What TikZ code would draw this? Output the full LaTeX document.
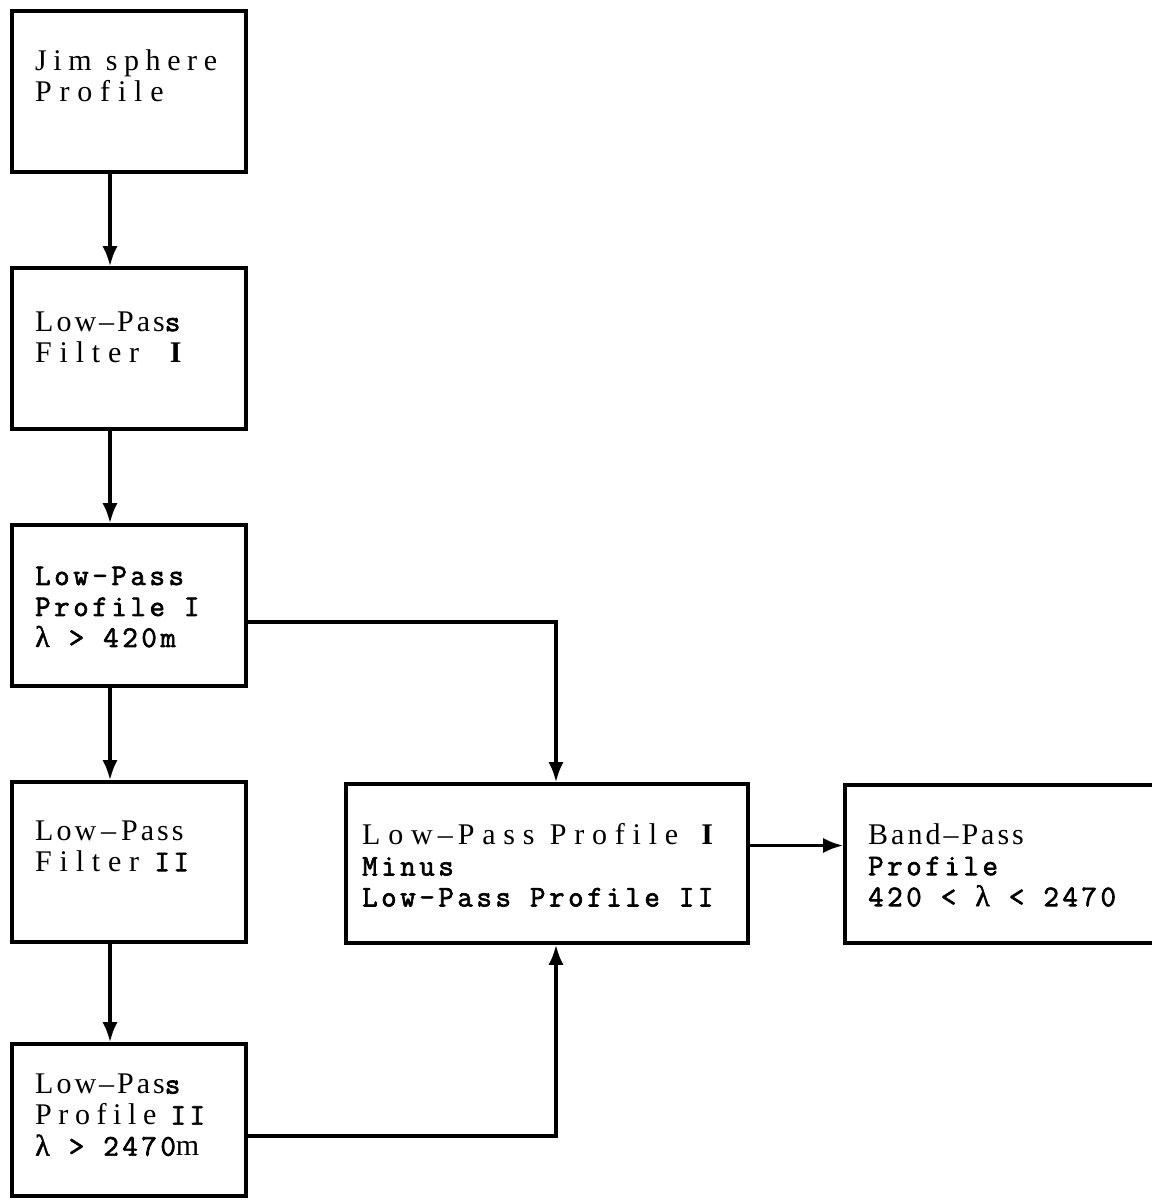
\documentclass[tikz,border=0pt]{standalone}
\usepackage{fontspec}
\setmainfont{Liberation Serif}
\newfontfamily\serifwide[LetterSpace=22]{Liberation Serif}
\newfontfamily\serifwider[LetterSpace=26]{Liberation Serif}
\newfontfamily\serifmid[LetterSpace=10]{Liberation Serif}
\newfontfamily\monob[FakeBold=2.2,LetterSpace=12]{Latin Modern Mono}
\newfontfamily\lam[FakeBold=1.5]{Liberation Serif}
\usetikzlibrary{arrows.meta,calc}
\begin{document}
\begin{tikzpicture}[x=1pt,y=-1pt,
  box/.style={draw,line width=3.6pt},
  txt/.style={anchor=west,align=left,inner sep=0pt,font=\fontsize{30}{31}\selectfont},
  conn/.style={line width=3.2pt,-{Latex[length=20pt,width=15pt]}}]
\useasboundingbox (0,0) rectangle (1151,1204);
% boxes
\node[box,minimum width=234pt,minimum height=161pt] (b1) at (129,91.5) {};
\node[box,minimum width=234pt,minimum height=161pt] (b2) at (129,348.5) {};
\node[box,minimum width=234pt,minimum height=161pt] (b3) at (129,605.5) {};
\node[box,minimum width=234pt,minimum height=160pt] (b4) at (129,862) {};
\node[box,minimum width=234pt,minimum height=152pt] (b5) at (129,1120) {};
\node[box,minimum width=402pt,minimum height=159pt] (bm) at (547,863.5) {};
\node[box,minimum width=312pt,minimum height=158pt] (bb) at (1001,864) {};
% texts
\node[txt] (t1) at (35,76) {{\serifwide Jim sphere}\\{\serifwider Profile}};
\node[txt] (t2) at (35,337) {{\serifmid Low–Pas}{\monob s}\\{\serifwider Filter\ \ \textbf{I}}};
\node[txt] (t3) at (35,607) {{\monob Low-Pass}\\{\monob Profile I}\\{\lam λ}{\monob\ > 420m}};
\node[txt] (t4) at (35,846) {{\serifmid Low\,–\,Pass}\\{\serifwider Filter\ }{\monob II}};
\node[txt] (t5) at (35,1115) {{\serifmid Low–Pas}{\monob s}\\{\serifwide Profile\ }{\monob II}\\{\lam λ}{\monob\ > 2470}m};
\node[txt] (tm) at (362,865) {{\serifwider Low\,–\,Pass Profile\ }\textbf{I}\\{\monob Minus}\\{\monob Low-Pass Profile II}};
\node[txt] (tb) at (868,865) {{\serifmid Band–Pass}\\{\monob Profile}\\{\monob 420 <\ }{\lam λ}{\monob\ < 2470}};
% connectors
\coordinate (c1) at (556,622);
\coordinate (c2) at (556,1136);
\draw[conn] ([xshift=-19pt]b1.south) -- ([xshift=-19pt]b2.north);
\draw[conn] ([xshift=-19pt]b2.south) -- ([xshift=-19pt]b3.north);
\draw[conn] ([xshift=-19pt]b3.south) -- ([xshift=-19pt]b4.north);
\draw[conn] ([xshift=-19pt]b4.south) -- ([xshift=-19pt]b5.north);
\draw[conn] (b3.east |- c1) -- (c1) -- (c1 |- bm.north);
\draw[conn] (b5.east |- c2) -- (c2) -- (c2 |- bm.south);
\draw[conn] ([yshift=18pt]bm.east) -- ([yshift=18pt]bm.east -| bb.west);
\end{tikzpicture}
\end{document}
